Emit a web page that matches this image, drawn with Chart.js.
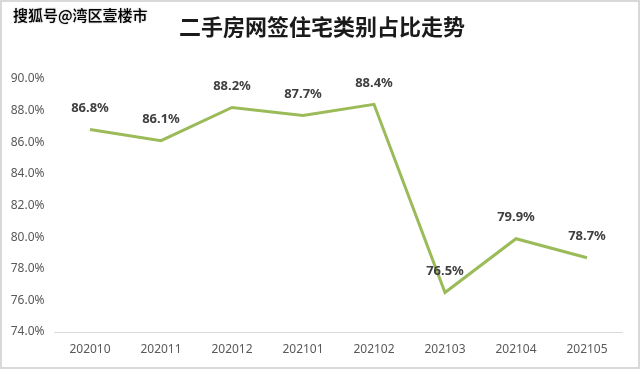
<!DOCTYPE html>
<html lang="zh">
<head>
    <meta charset="UTF-8">
    <title>二手房网签住宅类别占比走势</title>
    <script src="https://cdn.jsdelivr.net/npm/chart.js"></script>
    <style>
        html, body { margin: 0; padding: 0; background: #fff; }
        #wrap {
            width: 640px; height: 369px; box-sizing: border-box;
            border: 2px solid #d9d9d9; position: relative;
        }
    </style>
</head>
<body>
    <div id="wrap">
        <canvas id="trendChart" width="636" height="365"></canvas>
    </div>

    <script>
        // months on the x axis
        const months = ['202010', '202011', '202012', '202101', '202102', '202103', '202104', '202105'];
        // share of residential type in second-hand signed deals (%)
        const shares = [86.8, 86.1, 88.2, 87.7, 88.4, 76.5, 79.9, 78.7];
        // y axis range and step (%)
        const yMin = 74;
        const yMax = 90;
        const yStep = 2;

        const titleText = '二手房网签住宅类别占比走势';
        const watermarkText = '搜狐号@湾区壹楼市';

        // draws the title, watermark and the value labels above the points
        const textPlugin = {
            id: 'textPlugin',
            afterDraw(chart) {
                const ctx = chart.ctx;
                ctx.save();

                // title
                ctx.font = 'bold 22px "Noto Sans CJK SC"';
                ctx.fillStyle = '#1a1a1a';
                ctx.textAlign = 'center';
                ctx.textBaseline = 'middle';
                ctx.fillText(titleText, 320, 25);

                // watermark
                ctx.font = '500 15px "Noto Sans CJK SC"';
                ctx.textAlign = 'left';
                ctx.shadowColor = 'rgba(120,120,120,0.8)';
                ctx.shadowBlur = 1.5;
                ctx.fillStyle = '#000';
                ctx.fillText(watermarkText, 11, 13);
                ctx.shadowBlur = 0;

                // data labels
                const meta = chart.getDatasetMeta(0);
                ctx.font = 'bold 13px "Noto Sans"';
                ctx.fillStyle = '#404040';
                ctx.textAlign = 'center';
                meta.data.forEach((pt, i) => {
                    ctx.fillText(shares[i].toFixed(1) + '%', pt.x, pt.y - 21);
                });
                ctx.restore();
            }
        };

        const chartEl = document.getElementById('trendChart');
        const chart = new Chart(chartEl, {
            type: 'line',
            data: {
                labels: months,
                datasets: [{
                    data: shares,
                    borderColor: '#9bbb59',
                    borderWidth: 3,
                    pointRadius: 0,
                    tension: 0,
                    fill: false
                }]
            },
            options: {
                responsive: false,
                animation: false,
                layout: { padding: { top: 77, right: 15.5, left: 0, bottom: 0 } },
                plugins: {
                    legend: { display: false },
                    tooltip: { enabled: false }
                },
                scales: {
                    x: {
                        offset: true,
                        grid: { display: false, drawTicks: false, offset: true },
                        border: { display: true, color: '#d9d9d9', width: 1 },
                        ticks: {
                            color: '#595959',
                            font: { family: 'Noto Sans', size: 12 },
                            padding: 10,
                            maxRotation: 0
                        },
                        afterFit(scale) { scale.height = 35; }
                    },
                    y: {
                        min: yMin,
                        max: yMax,
                        grid: { display: false, drawTicks: false },
                        border: { display: false },
                        ticks: {
                            stepSize: yStep,
                            color: '#595959',
                            font: { family: 'Noto Sans', size: 12 },
                            padding: 10,
                            callback: v => v.toFixed(1) + '%'
                        },
                        afterFit(scale) { scale.width = 52.5; }
                    }
                }
            },
            plugins: [textPlugin]
        });
    </script>
</body>
</html>
